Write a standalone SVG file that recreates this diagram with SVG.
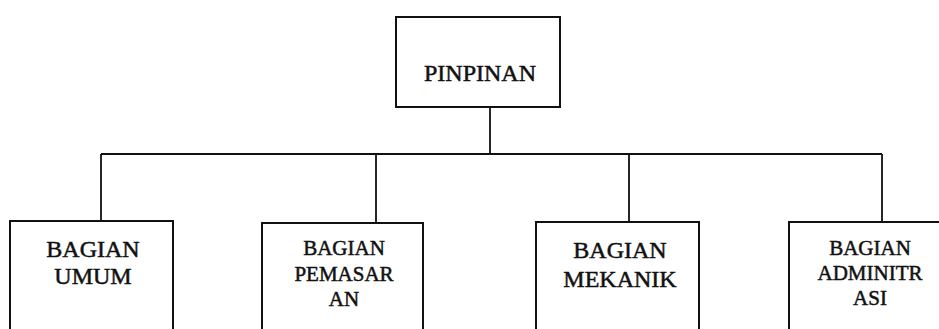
<svg xmlns="http://www.w3.org/2000/svg" width="939" height="329" viewBox="0 0 939 329">
<style>
.box{fill:#fff;stroke:#111;stroke-width:2}
.ln{fill:none;stroke:#111;stroke-width:1.8}
text{font-family:"Liberation Serif","Times New Roman",serif;fill:#111;stroke:#111;stroke-width:0.5;text-anchor:middle}
.big{font-size:24px}
.sm{font-size:21px}
</style>
<rect width="939" height="329" fill="#fff"/>
<g id="connectors">
<path class="ln" d="M490,107 V154 M101,154 H882 M101,154 V221 M376,154 V223 M629,154 V222 M882,154 V222"/>
</g>
<g id="pinpinan">
<rect class="box" x="396" y="17" width="164" height="90"/>
<text class="big" x="480" y="81">PINPINAN</text>
</g>
<g id="umum">
<rect class="box" x="10" y="221" width="163" height="120"/>
<text class="big" x="93" y="257">BAGIAN</text>
<text class="big" x="93" y="284">UMUM</text>
</g>
<g id="pemasaran">
<rect class="box" x="262" y="223" width="161" height="120"/>
<text class="sm" x="344" y="255">BAGIAN</text>
<text class="sm" x="344" y="281">PEMASAR</text>
<text class="sm" x="344" y="306">AN</text>
</g>
<g id="mekanik">
<rect class="box" x="536" y="222" width="163" height="120"/>
<text class="big" x="620" y="258">BAGIAN</text>
<text class="big" x="620" y="287">MEKANIK</text>
</g>
<g id="administrasi">
<rect class="box" x="789" y="222" width="170" height="120"/>
<text class="sm" x="870" y="255">BAGIAN</text>
<text class="sm" x="870" y="280">ADMINITR</text>
<text class="sm" x="870" y="305">ASI</text>
</g>
</svg>
